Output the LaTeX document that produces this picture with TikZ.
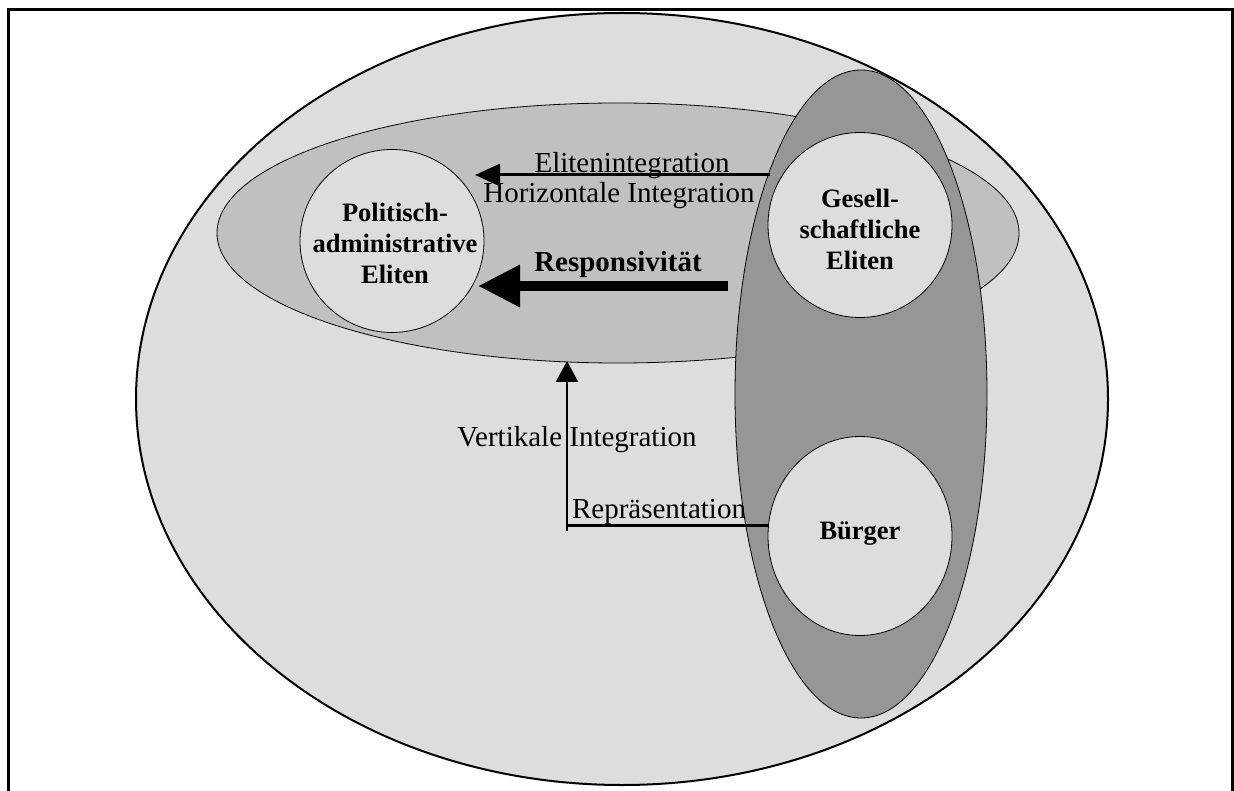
\documentclass[tikz,border=0pt]{standalone}
\usepackage{fontspec}
\setmainfont{Liberation Serif}
\usetikzlibrary{arrows.meta,shapes.geometric}

\definecolor{palegrey}{HTML}{DDDDDD}
\definecolor{midgrey}{HTML}{C0C0C0}
\definecolor{darkgrey}{HTML}{969696}

\tikzset{
  region/.style={ellipse, draw=black, inner sep=0pt, outer sep=0pt},
  actor/.style={ellipse, draw=black, line width=0.8pt, fill=palegrey, inner sep=0pt, outer sep=0pt},
  actortext/.style={inner sep=0pt, align=center, font=\bfseries\fontsize{26.5}{31}\selectfont},
  lbl/.style={anchor=base, inner sep=0pt, font=\fontsize{29}{31}\selectfont},
  lblbold/.style={lbl, font=\bfseries\fontsize{29}{31}\selectfont},
}

\begin{document}
\begin{tikzpicture}[x=1pt, y=-1pt]
\useasboundingbox (0,0) rectangle (1234,791);

% open frame (no bottom edge)
\draw[line width=3pt] (8,791) -- (8,10) -- (1232,10) -- (1232,791);

% nested regions
\node[region, line width=2pt, fill=palegrey, minimum width=972pt, minimum height=772pt] (society) at (622,399) {};
\node[region, line width=0.8pt, fill=midgrey, minimum width=802pt, minimum height=260pt] (elite) at (618,233) {};
\node[region, line width=0.8pt, fill=darkgrey, minimum width=252pt, minimum height=648pt] (vert) at (861,394) {};

% actors
\node[actor, minimum width=184pt, minimum height=183pt] (pol) at (392,241) {};
\node[actor, minimum width=184pt, minimum height=185pt] (ges) at (860,225) {};
\node[actor, minimum width=184pt, minimum height=199pt] (bur) at (860,536) {};
\node[actortext] (polT) at (395,243) {Politisch-\\administrative\\Eliten};
\node[actortext] (gesT) at (860,229) {Gesell-\\schaftliche\\Eliten};
\node[actortext] (burT) at (860,534) {Bürger};

% connector end points
\coordinate (eliS) at (770,175);
\coordinate (eliE) at (475,175);
\coordinate (resS) at (728,286);
\coordinate (resE) at (478,286);
\coordinate (repS) at (768,525);
\coordinate (corner) at (567,525);
\coordinate (vertS) at (567,531);
\coordinate (vertE) at (567,361);

% connectors
\draw[line width=3pt, -{Triangle[length=25pt, width=22pt]}] (eliS) -- (eliE);
\draw[line width=9.5pt, -{Triangle[length=42pt, width=40pt]}] (resS) -- (resE);
\draw[line width=3pt] (repS) -- (corner);
\draw[line width=2.5pt, -{Triangle[length=21pt, width=22pt]}] (vertS) -- (vertE);

% labels
\node[lbl] (tEli) at (632,173) {Elitenintegration};
\node[lbl] (tHor) at (619,203) {Horizontale Integration};
\node[lblbold] (tRes) at (618,272) {Responsivität};
\node[lbl] (tVer) at (577,446) {Vertikale Integration};
\node[lbl] (tRep) at (659,518) {Repräsentation};
\end{tikzpicture}
\end{document}
